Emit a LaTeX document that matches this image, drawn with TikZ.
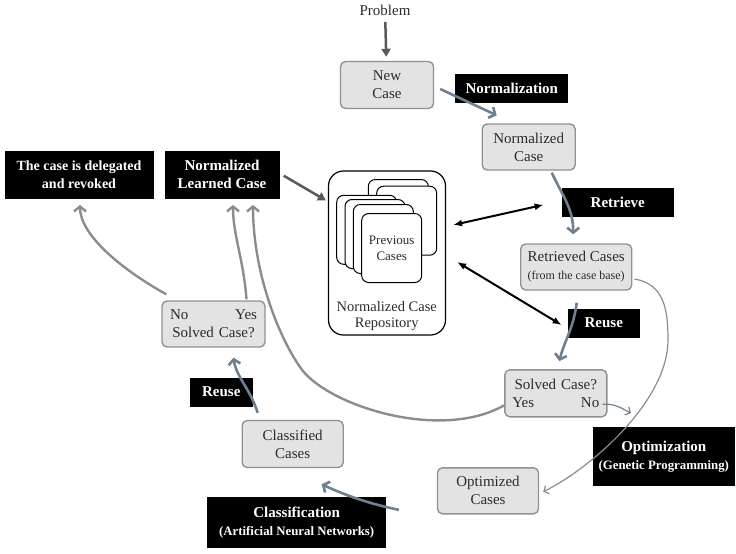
\documentclass[tikz,border=0pt]{standalone}
\usepackage{fontspec}
\setmainfont{Liberation Serif}
\usepackage{xcolor}
\usetikzlibrary{arrows,arrows.meta,shapes,positioning,calc}

\definecolor{boxfill}{HTML}{E3E3E3}
\definecolor{boxline}{HTML}{919191}
\definecolor{flowcol}{HTML}{708090}
\definecolor{loopcol}{HTML}{8C8C8C}
\definecolor{darkcol}{HTML}{595959}
\definecolor{textcol}{HTML}{2B2B2B}

\tikzset{
  casebox/.style={draw=boxline, fill=boxfill, line width=1.4pt, rounded corners=5pt,
    align=center, text=textcol, inner sep=0pt, font=\fontsize{15}{18}\selectfont},
  blackbox/.style={fill=black, text=white, align=center, inner sep=0pt,
    font=\fontsize{15}{18}\selectfont\bfseries},
  cardbox/.style={draw, fill=white, line width=1pt, rounded corners=7pt,
    minimum width=60pt, minimum height=69pt},
  flowarrow/.style={draw=flowcol, line width=2.6pt, -{Straight Barb[length=5pt,width=12pt]}},
  loopline/.style={draw=loopcol, line width=2.4pt, -{Straight Barb[length=5pt,width=12pt]}},
  thinarrow/.style={line width=1.2pt, -{Straight Barb[length=4pt,width=9pt]}},
  twoway/.style={draw=black, line width=2pt, {Latex[length=9pt,width=7pt]}-{Latex[length=9pt,width=7pt]}},
  darkarrow/.style={draw=darkcol, line width=2.5pt, -{Triangle[length=8pt,width=9pt]}}
}

\begin{document}
\begin{tikzpicture}[x=1pt, y=-1pt]
        \useasboundingbox (0,0) rectangle (736,554);

        % repository with the stacked cases
        \node[draw, line width=1.2pt, rounded corners=15pt, minimum width=117pt, minimum height=164pt] (repo) at (387,253) {};
        \foreach \cx/\cy [count=\i] in {398.3/214, 406.7/220.7, 366.7/229.8, 375/234, 383.3/239}
          \node[cardbox] (card\i) at (\cx,\cy) {};
        \node[cardbox, align=center, text=textcol, font=\fontsize{13}{16}\selectfont] (prevcases) at (391.7,248) {Previous\\Cases};
        \node[align=center, text=textcol, font=\fontsize{14.5}{16}\selectfont] (repolabel) at (386.7,316) {Normalized Case\\Repository};

        % cases
        \node[text=textcol, font=\fontsize{15}{18}\selectfont] (problem) at (385,10) {Problem};
        \node[casebox, minimum width=93pt, minimum height=47pt] (newcase) at (387,85) {New\\Case};
        \node[casebox, minimum width=93pt, minimum height=46pt] (normcase) at (528.7,147) {Normalized\\Case};
        \node[casebox, minimum width=111pt, minimum height=46pt] (retrieved) at (576.2,267) {Retrieved Cases\\{\fontsize{12}{14}\selectfont (from the case base)}};
        \node[casebox, minimum width=102pt, minimum height=47pt, text width=87pt] (solvedR) at (555.8,393.3) {Solved Case?\\Yes\hfill No};
        \node[casebox, minimum width=101pt, minimum height=46pt] (optimized) at (488,490.8) {Optimized\\Cases};
        \node[casebox, minimum width=101pt, minimum height=47pt] (classified) at (292.7,444) {Classified\\Cases};
        \node[casebox, minimum width=103pt, minimum height=46pt, text width=87pt] (solvedL) at (213.5,324) {No\hfill Yes\\Solved Case?};

        % steps
        \node[blackbox, minimum width=113pt, minimum height=29pt] (normalization) at (511.8,88.7) {Normalization};
        \node[blackbox, minimum width=112pt, minimum height=29pt] (retrieve) at (617.8,202.8) {Retrieve};
        \node[blackbox, minimum width=72pt, minimum height=29pt] (reuseR) at (603.8,323) {Reuse};
        \node[blackbox, minimum width=142pt, minimum height=59pt] (optim) at (663.8,456.3) {Optimization\\{\fontsize{12.8}{15}\selectfont (Genetic Programming)}};
        \node[blackbox, minimum width=179pt, minimum height=51pt] (classif) at (296.7,522.8) {Classification\\{\fontsize{12.8}{15}\selectfont (Artificial Neural Networks)}};
        \node[blackbox, minimum width=63pt, minimum height=29pt] (reuseL) at (221.3,392) {Reuse};
        \node[blackbox, minimum width=115pt, minimum height=48pt] (learned) at (222,174.7) {Normalized\\Learned Case};
        \node[blackbox, minimum width=149pt, minimum height=48pt, font=\fontsize{14}{18}\selectfont\bfseries] (delegated) at (79,174.7) {The case is delegated\\and revoked};

        \coordinate (noend) at (631,413);
        \coordinate (bend) at (668,340);
        \coordinate (swing) at (300,367);

        % connectors
        \draw[darkarrow, shorten <=3pt, shorten >=4pt] (problem) -- (newcase);
        \draw[darkarrow] ($(learned.east)+(4,1)$) -- ($(repo.north west)+(-2,30)$);

        \draw[twoway] ($(repo.east)+(7,-28)$) -- ($(retrieve.west)+(-18,2)$);
        \draw[twoway] ($(repo.east)+(11,9)$) -- ($(reuseR.west)+(-6,2)$);

        \draw[flowarrow] ($(newcase.east)+(6,4)$) -- ($(normcase.north)+(-32,-8)$);
        \draw[flowarrow] ($(normcase.south)+(23,2)$) .. controls +(12,25) and +(0,-25) .. ($(retrieved.north)+(-3,-9)$);
        \draw[flowarrow] ($(retrieved.south)+(0.5,12)$) .. controls +(-3,25) and +(5,-20) .. ($(solvedR.north)+(3.5,-8)$);
        \draw[thinarrow, draw=flowcol] ($(solvedR.east)+(-5,11)$) .. controls +(12,-1) and +(-10,-5) .. (noend);
        \draw[thinarrow, draw=loopcol] ($(retrieved.east)+(2,12)$) .. controls +(30,5) and +(0,-30) .. (bend)
            .. controls +(0,60) and +(50,-25) .. ($(optimized.east)+(4,1)$);

        \draw[loopline] ($(solvedR.west)+(0,12)$) .. controls (440,442) and (325,405) .. (swing)
            .. controls (277,334) and (253,270) .. ($(learned.south)+(31,6)$);
        \draw[loopline] ($(solvedL.north)+(33,-1)$) .. controls +(-3,-40) and +(0,30) .. ($(learned.south)+(11,6)$);
        \draw[loopline] ($(solvedL.north west)+(5,-6)$) .. controls +(-45,-25) and +(0,30) .. ($(delegated.south)+(1,6)$);

        \draw[flowarrow] ($(classified.north)+(-35,-7)$) .. controls +(-8,-25) and +(3,20) .. ($(solvedL.south)+(20,10)$);
        \draw[flowarrow] ($(optimized.west)+(-38,19)$) .. controls +(-25,-5) and +(25,12) .. ($(classified.south)+(29,16)$);
\end{tikzpicture}
\end{document}
